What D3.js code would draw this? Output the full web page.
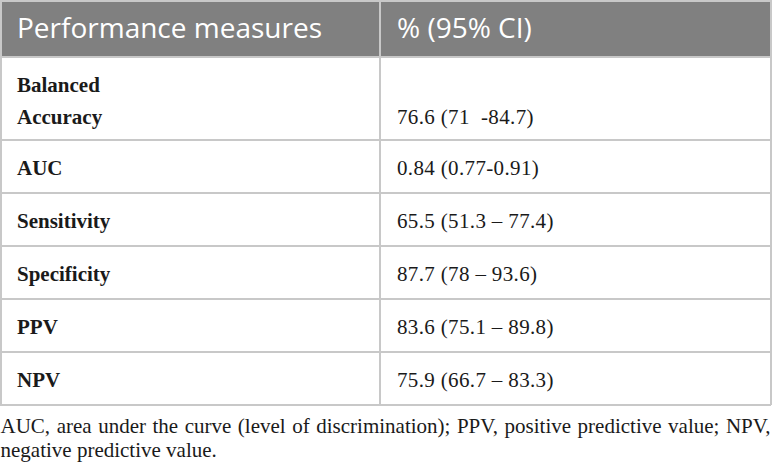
<!DOCTYPE html>
<html>
<head>
<meta charset="utf-8">
<script src="https://cdn.jsdelivr.net/npm/d3@7"></script>
<style>
  html, body { margin: 0; padding: 0; background: #fff; }
  svg { display: block; }
  .head { font-family: "Open Sans", sans-serif; font-size: 28px; fill: #fff; }
  .measure { font-family: "Liberation Serif", serif; font-size: 21px; font-weight: bold; fill: #1a1a1a; }
  .value { font-family: "Liberation Serif", serif; font-size: 21px; letter-spacing: 0.35px; fill: #1a1a1a; }
  .note { font-family: "Liberation Serif", serif; font-size: 21px; fill: #1a1a1a; }
</style>
</head>
<body>
<div id="table"></div>
<script>
// table content
var headers = ['Performance measures', '% (95% CI)'];
var measures = [['Balanced', 'Accuracy'], ['AUC'], ['Sensitivity'], ['Specificity'], ['PPV'], ['NPV']];
var values = ['76.6 (71  -84.7)', '0.84 (0.77-0.91)', '65.5 (51.3 \u2013 77.4)', '87.7 (78 \u2013 93.6)', '83.6 (75.1 \u2013 89.8)', '75.9 (66.7 \u2013 83.3)'];
var footnote = ['AUC, area under the curve (level of discrimination); PPV, positive predictive value; NPV,', 'negative predictive value.'];

var width = 772, height = 467;
var headH = 57, lineH = 30, rowPad = 23;
var colX = [0, 380, 771];
var padX = 17;
var gridColor = '#c8c8c8';

var svg = d3.select('#table').append('svg')
  .attr('width', width)
  .attr('height', height);

// row heights depend on how many lines the label takes
var rowH = measures.map(function(m) { return rowPad + lineH * m.length; });
var rowTop = [headH].concat(Array.from(d3.cumsum(rowH), function(v) { return headH + v; }));
var tableBottom = rowTop[rowTop.length - 1];

// header band
svg.append('rect')
  .attr('x', 0).attr('y', 0)
  .attr('width', width).attr('height', headH)
  .attr('fill', '#808080');

svg.selectAll('text.head')
  .data(headers)
  .enter()
  .append('text')
  .attr('class', 'head')
  .attr('x', function(d, i) { return colX[i] + padX; })
  .attr('y', 38)
  .text(function(d) { return d; });

// grid lines
var grid = svg.append('g')
  .attr('stroke', gridColor)
  .attr('stroke-width', 2)
  .attr('fill', 'none');

grid.selectAll('line.h')
  .data(rowTop)
  .enter()
  .append('line')
  .attr('x1', 0).attr('x2', colX[2])
  .attr('y1', function(d) { return d; })
  .attr('y2', function(d) { return d; });

grid.append('line').attr('x1', 0).attr('x2', colX[2]).attr('y1', 1).attr('y2', 1);

grid.selectAll('line.v')
  .data(colX)
  .enter()
  .append('line')
  .attr('x1', function(d) { return Math.max(d, 1); })
  .attr('x2', function(d) { return Math.max(d, 1); })
  .attr('y1', 0).attr('y2', tableBottom);

// body rows
var rows = svg.selectAll('g.row')
  .data(measures)
  .enter()
  .append('g')
  .attr('transform', function(d, i) { return 'translate(0,' + rowTop[i] + ')'; });

rows.each(function(m, i) {
  var g = d3.select(this);
  g.selectAll('text.measure')
    .data(m)
    .enter()
    .append('text')
    .attr('class', 'measure')
    .attr('x', colX[0] + padX)
    .attr('y', function(d, j) { return 35 + j * 32; })
    .text(function(d) { return d; });

  g.append('text')
    .attr('class', 'value')
    .attr('x', colX[1] + padX)
    .attr('y', 35 + (m.length - 1) * 32)
    .attr('xml:space', 'preserve')
    .style('white-space', 'pre')
    .text(values[i]);
});

// footnote, first line justified to full width
var noteY = [tableBottom + 28, tableBottom + 52];
footnote.forEach(function(line, li) {
  var words = line.split(' ');
  var g = svg.append('g');
  var nodes = g.selectAll('text')
    .data(words)
    .enter()
    .append('text')
    .attr('class', 'note')
    .attr('y', noteY[li])
    .text(function(d) { return d; });
  var widths = nodes.nodes().map(function(n) { return n.getComputedTextLength(); });
  var gap = 5.25;
  if (li === 0 && words.length > 1) {
    gap = (colX[2] - 1 - d3.sum(widths)) / (words.length - 1);
  }
  var x = 0.5;
  nodes.attr('x', function(d, j) {
    var cur = x;
    x += widths[j] + gap;
    return cur;
  });
});
</script>
</body>
</html>
